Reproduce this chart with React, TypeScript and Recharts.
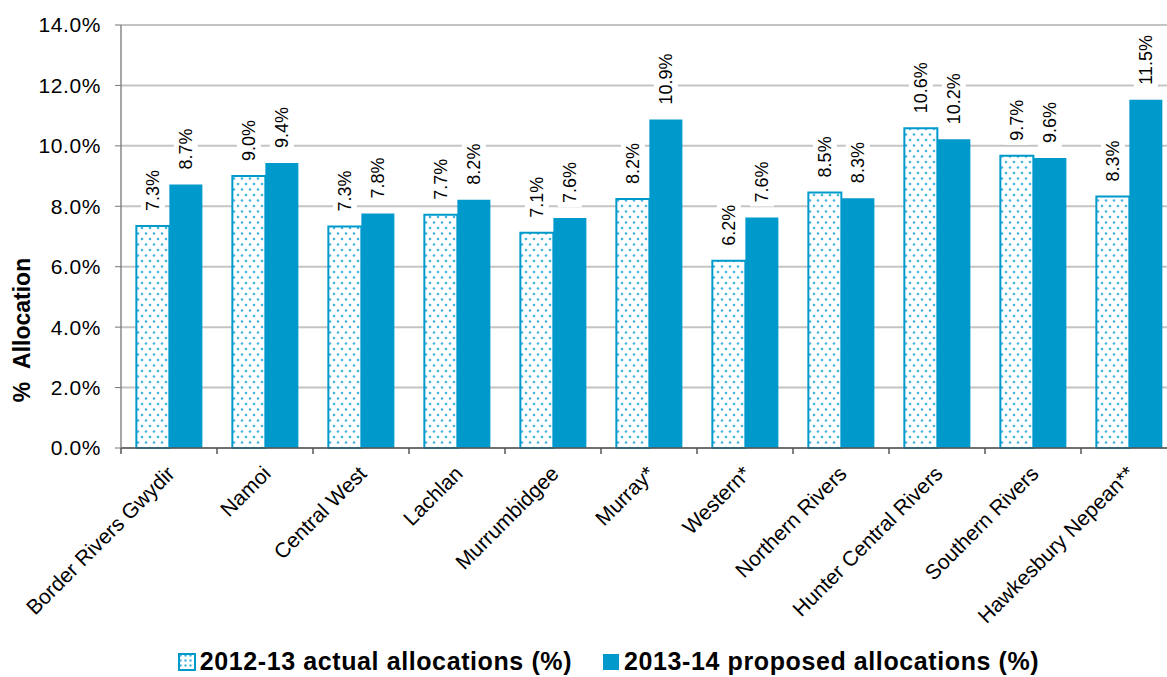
import { BarChart, Bar, XAxis, YAxis, CartesianGrid, Legend } from 'recharts';

const regions = [
  'Border Rivers Gwydir',
  'Namoi',
  'Central West',
  'Lachlan',
  'Murrumbidgee',
  'Murray*',
  'Western*',
  'Northern Rivers',
  'Hunter Central Rivers',
  'Southern Rivers',
  'Hawkesbury Nepean**',
];

const actual2012 = [7.35, 9.0, 7.33, 7.72, 7.12, 8.24, 6.2, 8.46, 10.58, 9.67, 8.32];
const proposed2013 = [8.72, 9.43, 7.76, 8.22, 7.61, 10.87, 7.63, 8.27, 10.22, 9.6, 11.53];

const yTicks = [0, 2, 4, 6, 8, 10, 12, 14];

const data = regions.map((name, i) => ({
  name,
  actual: actual2012[i],
  proposed: proposed2013[i],
}));

const FONT = "Arial, 'Liberation Sans', sans-serif";
const BLUE = '#0099CC';
const DOT = '#45b3e0';

const CHART_W = 1180;
const CHART_H = 677;
const Y_AXIS_W = 121;
const MARGIN_R = 3;
const BAND = (CHART_W - Y_AXIS_W - MARGIN_R) / regions.length;

function ValueLabel(props: any) {
  const { x, y, width, value } = props;
  const text = Number(value).toFixed(1) + '%';
  const fs = 18;
  const len = text.split('').reduce((s, c) => s + (c === '.' ? 0.278 : c === '%' ? 0.889 : 0.556), 0) * fs;
  const cx = x + width / 2;
  const base = y - 15;
  return (
    <g>
      <rect x={cx - 12} y={base - len - 4} width={24} height={len + 8} fill="#fff" />
      <text
        x={cx}
        y={base}
        transform={`rotate(-90, ${cx}, ${base})`}
        textAnchor="start"
        dominantBaseline="central"
        fontSize={fs}
        fontFamily={FONT}
        fill="#000"
      >
        {text}
      </text>
    </g>
  );
}

function CategoryTick(props: any) {
  const { x, y, payload } = props;
  const lx = x - BAND / 2;
  const ax = x + 7;
  const ay = y + 21;
  return (
    <g>
      <line x1={lx} y1={y - 6} x2={lx} y2={y} stroke="#555" strokeWidth={1.5} />
      <text
        x={ax}
        y={ay}
        transform={`rotate(-45, ${ax}, ${ay})`}
        textAnchor="end"
        fontSize={21}
        fontFamily={FONT}
        fill="#000"
      >
        {payload.value}
      </text>
    </g>
  );
}

function LegendContent() {
  const item = { display: 'flex', alignItems: 'center', gap: 4 } as const;
  return (
    <div
      style={{
        display: 'flex',
        justifyContent: 'center',
        alignItems: 'center',
        gap: 30,
        fontFamily: FONT,
        fontWeight: 'bold',
        fontSize: 25,
        lineHeight: '29px',
        letterSpacing: 0.6,
        color: '#000',
        paddingLeft: 40,
        paddingTop: 4,
      }}
    >
      <div style={item}>
        <svg width={18} height={18}>
          <defs>
            <pattern id="legendDots" width={5} height={5} patternUnits="userSpaceOnUse">
              <rect width={5} height={5} fill="#fff" />
              <circle cx={2.5} cy={2.5} r={1.2} fill={DOT} />
            </pattern>
          </defs>
          <rect x={1} y={1} width={16} height={16} fill="url(#legendDots)" stroke={BLUE} strokeWidth={2} />
        </svg>
        <span>2012-13 actual allocations (%)</span>
      </div>
      <div style={item}>
        <svg width={18} height={18}>
          <rect x={1} y={1} width={16} height={16} fill={BLUE} />
        </svg>
        <span>2013-14 proposed allocations (%)</span>
      </div>
    </div>
  );
}

export default function App() {
  return (
    <div
      style={{
        position: 'absolute',
        left: 0,
        top: 0,
        width: 1167,
        height: 677,
        overflow: 'hidden',
        background: '#fff',
      }}
    >
      <BarChart
        width={CHART_W}
        height={CHART_H}
        data={data}
        margin={{ top: 25, right: MARGIN_R, bottom: 0, left: 0 }}
        barCategoryGap="16%"
        barGap={0}
      >
        <defs>
          <pattern id="dots" width={8} height={11} patternUnits="userSpaceOnUse">
            <rect width={8} height={11} fill="#fff" />
            <circle cx={2} cy={2.5} r={1.3} fill={DOT} />
            <circle cx={6} cy={8} r={1.3} fill={DOT} />
          </pattern>
        </defs>
        <CartesianGrid vertical={false} stroke="#c4c4c4" strokeWidth={2} />
        <XAxis
          dataKey="name"
          interval={0}
          height={195}
          tickLine={false}
          tickSize={6}
          tickMargin={0}
          axisLine={{ stroke: '#555', strokeWidth: 1.5 }}
          tick={<CategoryTick />}
        />
        <YAxis
          width={Y_AXIS_W}
          domain={[0, 14]}
          ticks={yTicks}
          interval={0}
          tickFormatter={(v: number) => v.toFixed(1) + '%'}
          tick={{ fontSize: 21, fontFamily: FONT, fill: '#000', letterSpacing: 0.6 }}
          tickSize={6}
          tickMargin={14}
          tickLine={{ stroke: '#777' }}
          axisLine={{ stroke: '#888', strokeWidth: 1.5 }}
          label={{
            content: () => (
              <text
                x={22}
                y={330}
                transform="rotate(-90, 22, 330)"
                textAnchor="middle"
                dominantBaseline="central"
                fontSize={23}
                fontWeight="bold"
                fontFamily={FONT}
                fill="#000"
              >
                {'%\u00A0\u00A0Allocation'}
              </text>
            ),
          }}
        />
        <Legend verticalAlign="bottom" height={34} content={<LegendContent />} />
        <Bar
          dataKey="actual"
          name="2012-13 actual allocations (%)"
          fill="url(#dots)"
          stroke={BLUE}
          strokeWidth={2}
          isAnimationActive={false}
          label={<ValueLabel />}
        />
        <Bar
          dataKey="proposed"
          name="2013-14 proposed allocations (%)"
          fill={BLUE}
          isAnimationActive={false}
          label={<ValueLabel />}
        />
      </BarChart>
    </div>
  );
}
